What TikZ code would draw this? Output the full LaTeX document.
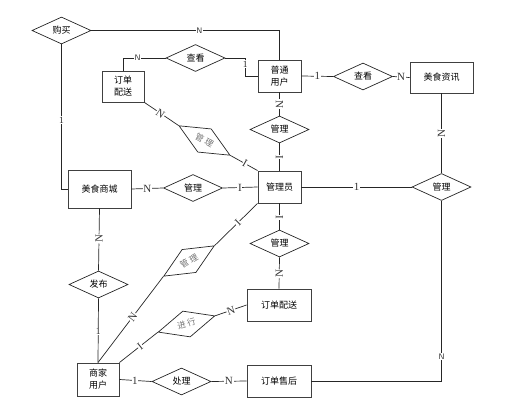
\documentclass[tikz,border=0pt]{standalone}
\usepackage{fontspec}
\setmainfont{Liberation Serif}
\newfontfamily\cjk{Noto Sans CJK SC}
\usetikzlibrary{shapes.geometric}
\begin{document}
\begin{tikzpicture}[x=1pt,y=-1pt,
  ent/.style={draw=black!75,line width=0.9pt,fill=white,inner sep=1pt,font=\cjk\fontsize{9}{12}\selectfont,align=center},
  rel/.style={draw=black!85,line width=0.7pt,diamond,minimum width=59pt,minimum height=27pt,inner sep=0pt,aspect=2,font=\cjk\fontsize{9}{11}\selectfont},
  trel/.style={rel,text=black!55,font=\cjk\fontsize{8.5}{10}\selectfont},
  con/.style={draw=black!85,line width=0.7pt},
  lbl/.style={fill=white,inner sep=0.6pt,font=\fontsize{11}{11}\selectfont,text=black!80},
  lbls/.style={fill=white,inner sep=0.6pt,font=\sffamily\fontsize{8}{8}\selectfont,text=black!80},
  lblo/.style={fill=white,inner sep=0.6pt,font=\fontsize{9.5}{9.5}\selectfont,text=black!85}]
\useasboundingbox (0,0) rectangle (509,412);
% entities
\node[ent,minimum width=43pt,minimum height=32pt] (pt) at (279.5,76) {普通\\用户};
\node[ent,minimum width=63pt,minimum height=31pt] (zx) at (441.5,77.5) {美食资讯};
\node[ent,minimum width=42pt,minimum height=31pt] (dd1) at (123,86.5) {订单\\配送};
\node[ent,minimum width=63pt,minimum height=38pt] (sc) at (99.5,189) {美食商城};
\node[ent,minimum width=43pt,minimum height=32pt] (gly) at (279.5,187) {管理员};
\node[ent,minimum width=64pt,minimum height=32pt] (dd2) at (279,305) {订单配送};
\node[ent,minimum width=64pt,minimum height=32pt] (sh) at (279,381) {订单售后};
\node[ent,minimum width=42pt,minimum height=33pt] (sj) at (98,379.5) {商家\\用户};
% relations
\node[rel] (gm) at (61.5,30.5) {购买};
\node[rel] (ck1) at (195.5,58) {查看};
\node[rel] (ck2) at (363,76.5) {查看};
\node[rel] (gl1) at (279.5,129.5) {管理};
\node[trel,rotate=-30] (gl2) at (204.5,140.5) {管\hspace{2.5pt}理};
\node[rel] (gl3) at (193,188) {管理};
\node[rel] (gl4) at (441.5,187) {管理};
\node[rel] (gl5) at (279.5,243.5) {管理};
\node[trel,rotate=31] (gl6) at (189,261) {管\hspace{2.5pt}理};
\node[rel] (fb) at (98.5,284.5) {发布};
\node[trel,rotate=16] (jx) at (186.5,324) {进\hspace{1.5pt}行};
\node[rel] (cl) at (181.5,381.5) {处理};
% connectors
\draw[con] (gm.east) -| node[lbls,pos=0.287]{N} (pt.north);
\draw[con] (gm.south) |- node[lblo,pos=0.262]{1} (sc.west);
\draw[con] (ck1.west) -| node[lbls,pos=0.33]{N} (dd1.north);
\draw[con] (ck1.east) -- ++(20,0) coordinate (k1) |- node[lblo,pos=0.17]{1} (pt.west);
\draw[con] (dd1.south east) -- node[lbl,pos=0.47,sloped]{N} (gl2.west);
\draw[con] (gl2.east) -- node[lbl,pos=0.54,sloped]{I} (gly.north west);
\draw[con] (pt.east) -- node[lbl,pos=0.5]{1} (ck2.west);
\draw[con] (ck2.east) -- node[lbl,pos=0.5]{N} (zx.west);
\draw[con] (pt.south) -- node[lbl,pos=0.5,sloped]{N} (gl1.north);
\draw[con] (gl1.south) -- node[lbl,pos=0.5,sloped]{I} (gly.north);
\draw[con] (sc.east) -- node[lbl,pos=0.5]{N} (gl3.west);
\draw[con] (gl3.east) -- node[lbl,pos=0.49]{I} (gly.west);
\draw[con] (gly.east) -- node[lbl,pos=0.5]{1} (gl4.west);
\draw[con] (gl4.north) -- node[lbl,pos=0.5,sloped]{N} (zx.south);
\draw[con] (gl4.south) |- node[lbls,pos=0.433]{N} (sh.east);
\draw[con] (gly.south) -- node[lbl,pos=0.52,sloped]{I} (gl5.north);
\draw[con] (gl5.south) -- node[lbl,pos=0.53,sloped]{N} (dd2.north);
\draw[con] (sc.south) -- node[lbl,pos=0.49,sloped]{N} (fb.north);
\draw[con] (fb.south) -- node[lblo,pos=0.52]{1} (sj.north);
\draw[con] (sj.north) -- node[lbl,pos=0.53,sloped]{N} (gl6.west);
\draw[con] (gl6.east) -- node[lbl,pos=0.54,sloped]{I} (gly.south west);
\draw[con] (sj.north east) -- node[lbl,pos=0.54,sloped]{I} (jx.west);
\draw[con] (jx.east) -- node[lbl,pos=0.5,sloped]{N} (dd2.west);
\draw[con] (sj.east) -- node[lbl,pos=0.48]{1} (cl.west);
\draw[con] (cl.east) -- node[lbl,pos=0.5]{N} (sh.west);
\end{tikzpicture}
\end{document}
